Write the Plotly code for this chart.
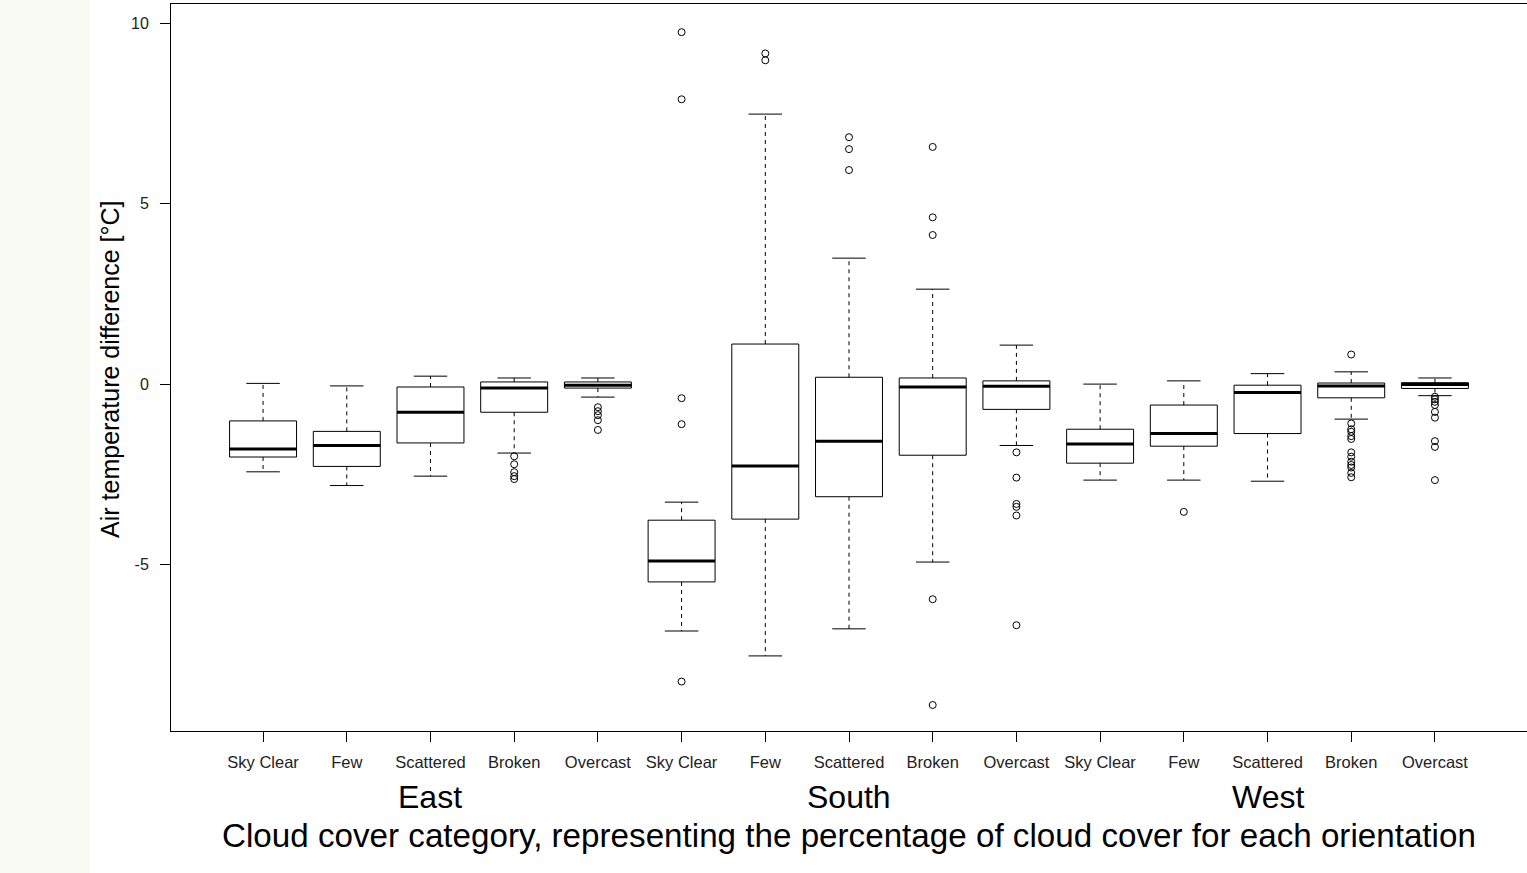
import plotly.graph_objects as go

# ---- data ----
orientations = ["East", "South", "West"]
cloud_categories = ["Sky Clear", "Few", "Scattered", "Broken", "Overcast"]
tick_labels = cloud_categories * 3
y_tick_values = [-5, 0, 5, 10]
y_tick_labels = ["-5", "0", "5", "10"]

lower_whisker = [-2.43, -2.81, -2.55, -1.91, -0.36,
                 -6.84, -7.53, -6.78, -4.93, -1.70,
                 -2.66, -2.66, -2.69, -0.97, -0.32]
q1 = [-2.02, -2.28, -1.63, -0.78, -0.11,
      -5.48, -3.74, -3.12, -1.97, -0.70,
      -2.19, -1.72, -1.37, -0.38, -0.12]
median = [-1.80, -1.70, -0.78, -0.11, -0.03,
          -4.90, -2.27, -1.58, -0.08, -0.06,
          -1.66, -1.37, -0.23, -0.05, -0.01]
q3 = [-1.02, -1.31, -0.08, 0.06, 0.06,
      -3.77, 1.11, 0.19, 0.17, 0.09,
      -1.25, -0.58, -0.03, 0.03, 0.04]
upper_whisker = [0.02, -0.05, 0.22, 0.17, 0.17,
                 -3.27, 7.48, 3.49, 2.63, 1.08,
                 0.00, 0.09, 0.29, 0.34, 0.17]
outliers = [
    [], [], [], [-2.0, -2.22, -2.44, -2.55, -2.63], [-0.64, -0.75, -0.86, -1.0, -1.27],
    [9.75, 7.89, -0.39, -1.11, -8.24], [9.16, 8.97], [6.84, 6.51, 5.93],
    [6.57, 4.62, 4.13, -5.96, -8.89], [-1.89, -2.59, -3.32, -3.40, -3.64, -6.68],
    [], [-3.54], [],
    [0.82, -1.09, -1.25, -1.32, -1.44, -1.52, -1.89, -2.01, -2.15, -2.24, -2.31, -2.46, -2.58],
    [-0.35, -0.42, -0.49, -0.58, -0.77, -0.93, -1.58, -1.74, -2.66],
]

# ---- styling constants ----
positions = list(range(1, len(tick_labels) + 1))
BOX_W = 0.8
CAP_W = 0.4
FONT = "Arial, 'Liberation Sans', sans-serif"

fig = go.Figure()

# dashed whiskers
wx, wy = [], []
for p, lo, a, b, hi in zip(positions, lower_whisker, q1, q3, upper_whisker):
    wx += [p, p, None, p, p, None]
    wy += [b, hi, None, a, lo, None]
fig.add_trace(go.Scatter(x=wx, y=wy, mode="lines",
                         line=dict(color="black", width=1, dash="4px,4px"),
                         showlegend=False, hoverinfo="skip"))

# boxes
fig.add_trace(go.Box(x=positions, q1=q1, median=median, q3=q3,
                     lowerfence=q1, upperfence=q3, width=BOX_W, whiskerwidth=0,
                     fillcolor="rgba(0,0,0,0)", line=dict(color="black", width=1),
                     boxpoints=False, showlegend=False, hoverinfo="skip"))

# whisker caps
cx, cy = [], []
for p, lo, hi in zip(positions, lower_whisker, upper_whisker):
    cx += [p - CAP_W / 2, p + CAP_W / 2, None, p - CAP_W / 2, p + CAP_W / 2, None]
    cy += [hi, hi, None, lo, lo, None]
fig.add_trace(go.Scatter(x=cx, y=cy, mode="lines", line=dict(color="black", width=1),
                         showlegend=False, hoverinfo="skip"))

# thick medians
mx, my = [], []
for p, m in zip(positions, median):
    mx += [p - BOX_W / 2, p + BOX_W / 2, None]
    my += [m, m, None]
fig.add_trace(go.Scatter(x=mx, y=my, mode="lines", line=dict(color="black", width=3),
                         showlegend=False, hoverinfo="skip"))

# outliers
ox, oy = [], []
for p, vals in zip(positions, outliers):
    ox += [p] * len(vals)
    oy += vals
fig.add_trace(go.Scatter(x=ox, y=oy, mode="markers",
                         marker=dict(symbol="circle-open", size=7, color="black",
                                     line=dict(width=1, color="black")),
                         showlegend=False, hoverinfo="skip"))

annotations = []
for i, name in enumerate(orientations):
    annotations.append(dict(x=positions[i * 5 + 2], y=-0.0908, xref="x", yref="paper",
                            text=name, showarrow=False, yanchor="middle", xanchor="center",
                            font=dict(size=32, color="black", family=FONT)))
annotations.append(dict(x=positions[7], y=-0.1444, xref="x", yref="paper",
                        text="Cloud cover category, representing the percentage of cloud cover for each orientation",
                        showarrow=False, yanchor="middle", xanchor="center",
                        font=dict(size=33.2, color="black", family=FONT)))
annotations.append(dict(x=-0.045, y=0.498, xref="paper", yref="paper",
                        text="Air temperature difference [°C]", textangle=-90,
                        showarrow=False, yanchor="middle", xanchor="center",
                        font=dict(size=25, color="black", family=FONT)))

fig.update_layout(
    width=1527, height=873,
    margin=dict(l=171, r=0, t=4, b=142),
    paper_bgcolor="white", plot_bgcolor="white",
    font=dict(family=FONT, color="black"),
    annotations=annotations,
    shapes=[dict(type="rect", xref="paper", yref="paper",
                 x0=-0.1262, x1=-0.0597, y0=-0.25, y1=1.1,
                 fillcolor="#f8faf3", line=dict(width=0), layer="below")],
    xaxis=dict(range=[-0.1, 16.1], tickmode="array", tickvals=positions, ticktext=tick_labels,
               ticks="outside", ticklen=10, tickcolor="black", tickwidth=1,
               ticklabelstandoff=6,
               showline=True, linecolor="black", linewidth=1, mirror=True,
               showgrid=False, zeroline=False, tickfont=dict(size=16.5, color="#222")),
    yaxis=dict(range=[-9.61, 10.53], tickmode="array", tickvals=y_tick_values,
               ticktext=y_tick_labels,
               ticks="outside", ticklen=10, tickcolor="black", tickwidth=1,
               ticklabelstandoff=8,
               showline=True, linecolor="black", linewidth=1, mirror=True,
               showgrid=False, zeroline=False, tickfont=dict(size=16, color="#222")),
)

fig.write_html("out.html", config={"displayModeBar": False},
               post_script="document.body.style.margin='0';")
